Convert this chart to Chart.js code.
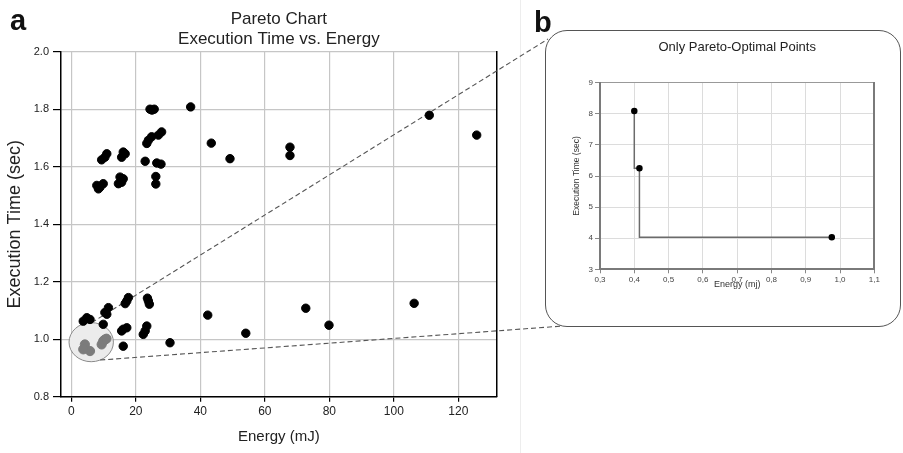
<!DOCTYPE html>
<html><head><meta charset="utf-8">
<script src="https://cdn.jsdelivr.net/npm/chart.js@4.4.0/dist/chart.umd.min.js"></script>
<style>
html,body{margin:0;padding:0;background:#fff;}
body{width:903px;height:453px;position:relative;overflow:hidden;font-family:"Liberation Sans",Arial,Helvetica,sans-serif;}
#main{position:absolute;left:0;top:0;width:903px;height:453px;}
#panelB{position:absolute;left:545px;top:30px;width:356px;height:297px;box-sizing:border-box;border:1.3px solid #555;border-radius:22px;}
#inset{position:absolute;left:546px;top:31px;width:354px;height:295px;}
.lbl{position:absolute;font-weight:bold;font-size:29px;line-height:29px;color:#111;}
</style></head><body>
<canvas id="main" width="903" height="453"></canvas>
<div id="panelB"></div>
<canvas id="inset" width="354" height="295"></canvas>
<div class="lbl" style="left:10px;top:6px">a</div>
<div class="lbl" style="left:534px;top:8px">b</div>
<script>
// ---- data ----
const mainTitle = ['Pareto Chart', 'Execution Time vs. Energy'];
const energyAll = [37.0,24.4,25.7,25.0,43.4,49.2,67.8,67.8,111.0,125.7,23.9,24.9,23.4,28.0,27.0,22.9,26.5,27.8,26.2,26.2,
  11.0,9.4,10.4,16.1,15.6,16.7,7.9,9.9,8.9,8.4,15.1,15.6,14.6,16.1,
  4.8,3.7,5.8,11.5,11.0,10.4,9.9,17.2,17.7,16.7,23.9,24.2,23.6,16.1,17.2,15.6,16.1,23.4,22.9,22.3,30.6,42.3,54.1,72.7,79.9,106.3];
const timeAll = [1.808,1.800,1.800,1.797,1.682,1.628,1.668,1.639,1.779,1.710,1.692,1.704,1.681,1.721,1.710,1.619,1.613,1.609,1.566,1.540,
  1.645,1.624,1.633,1.651,1.633,1.645,1.535,1.541,1.529,1.523,1.564,1.546,1.541,1.558,
  1.075,1.063,1.069,1.110,1.087,1.093,1.052,1.133,1.145,1.124,1.133,1.122,1.143,1.035,1.040,1.029,0.976,1.046,1.029,1.017,0.988,1.084,1.021,1.108,1.049,1.125];
const energyZoomed = [4.2,5.8,3.7,9.9,9.4,10.4,10.9];
const timeZoomed = [0.982,0.959,0.965,0.994,0.982,0.999,1.002];
const zoomCenter = [6.17, 0.99];      // energy, time
const zoomRadius = [6.88, 0.068];     // energy, time
const paretoEnergy = [0.400, 0.415, 0.976];
const paretoTime = [8.09, 6.25, 4.03];
const insetTitle = 'Only Pareto-Optimal Points';

const fam = '"Liberation Sans", Arial, Helvetica, sans-serif';
Chart.defaults.font.family = fam;

const overlay = {
  id: 'overlay',
  beforeDatasetsDraw(chart) {
    const {ctx, scales: {x, y}} = chart;
    ctx.save();
    // faint panel separator
    ctx.strokeStyle = '#ededed'; ctx.lineWidth = 1;
    ctx.beginPath(); ctx.moveTo(520.5, 0); ctx.lineTo(520.5, 453); ctx.stroke();
    // zoom ellipse
    const cx = x.getPixelForValue(zoomCenter[0]), cy = y.getPixelForValue(zoomCenter[1]);
    const rx = Math.abs(x.getPixelForValue(zoomCenter[0] + zoomRadius[0]) - cx);
    const ry = Math.abs(y.getPixelForValue(zoomCenter[1] + zoomRadius[1]) - cy);
    ctx.beginPath(); ctx.ellipse(cx, cy, rx, ry, 0, 0, Math.PI * 2);
    ctx.fillStyle = '#ececec'; ctx.fill();
    ctx.strokeStyle = '#8a8a8a'; ctx.lineWidth = 1; ctx.stroke();
    // dashed connectors to panel b
    ctx.setLineDash([5, 3]); ctx.strokeStyle = '#555'; ctx.lineWidth = 1.1;
    ctx.beginPath(); ctx.moveTo(cx + 0.5, cy - ry); ctx.lineTo(548, 39); ctx.stroke();
    const t = Math.acos(9 / rx);
    ctx.beginPath(); ctx.moveTo(cx + rx * Math.cos(t), cy + ry * Math.sin(t)); ctx.lineTo(563, 326); ctx.stroke();
    ctx.restore();
  }
};

new Chart(document.getElementById('main'), {
  type: 'scatter',
  data: { datasets: [
    { label: 'Configurations', data: energyAll.map((e, i) => ({x: e, y: timeAll[i]})),
      backgroundColor: '#000', borderColor: '#000', pointRadius: 4.2, pointHoverRadius: 4.2 },
    { label: 'Zoomed', data: energyZoomed.map((e, i) => ({x: e, y: timeZoomed[i]})),
      backgroundColor: '#7c7c7c', borderColor: '#7c7c7c', pointRadius: 4.6, pointHoverRadius: 4.6 }
  ]},
  options: {
    responsive: false, animation: false, events: [],
    layout: { padding: { left: 0, right: 406.3, top: 0, bottom: 0 } },
    plugins: {
      legend: { display: false }, tooltip: { enabled: false },
      title: { display: true, text: mainTitle, fullSize: false, color: '#222',
        font: { size: 17, weight: 'normal', lineHeight: 1.2 }, padding: { top: 9, bottom: 1.9 } }
    },
    scales: {
      x: { type: 'linear', min: -3.2, max: 131.9, afterFit: s => { s.height = 56.2; },
        ticks: { stepSize: 20, includeBounds: false, color: '#222', font: { size: 12 }, padding: 3, maxRotation: 0 },
        grid: { color: '#c6c6c6', lineWidth: 1.2, tickLength: 5, tickColor: '#000', tickWidth: 1.2 },
        border: { color: '#000', width: 1.5 },
        title: { display: true, text: 'Energy (mJ)', color: '#222', font: { size: 15 }, padding: { top: 0, bottom: 7 } } },
      y: { min: 0.8, max: 2.0, afterFit: s => { s.width = 61; },
        ticks: { stepSize: 0.2, callback: v => v.toFixed(1), color: '#222', font: { size: 11 }, padding: 4 },
        grid: { color: '#c6c6c6', lineWidth: 1.2, tickLength: 8, tickColor: '#000', tickWidth: 1.2 },
        border: { color: '#000', width: 1.5 },
        title: { display: true, text: 'Execution Time (sec)', color: '#222', font: { size: 18 }, padding: { top: 4, bottom: 0 } } },
      y2: { position: 'right', min: 0.8, max: 2.0, afterFit: s => { s.width = 0; },
        ticks: { display: false }, grid: { drawOnChartArea: false, drawTicks: false },
        border: { color: '#000', width: 1.5 } }
    }
  },
  plugins: [overlay]
});

new Chart(document.getElementById('inset'), {
  type: 'scatter',
  data: { datasets: [
    { label: 'Pareto front', data: paretoEnergy.map((e, i) => ({x: e, y: paretoTime[i]})),
      showLine: true, stepped: 'after', borderColor: '#6b6b6b', borderWidth: 1.5,
      backgroundColor: '#000', pointBorderColor: '#000', pointRadius: 2.5, pointHoverRadius: 2.5 }
  ]},
  options: {
    responsive: false, animation: false, events: [],
    layout: { padding: { left: 20, right: 25.7, top: 0, bottom: 35.6 } },
    plugins: {
      legend: { display: false }, tooltip: { enabled: false },
      title: { display: true, text: insetTitle, fullSize: false, color: '#222',
        font: { size: 13, weight: 'normal', lineHeight: 1.2 }, padding: { top: 9, bottom: 27.1 } }
    },
    scales: {
      x: { type: 'linear', min: 0.3, max: 1.1, afterFit: s => { s.height = 21.1; },
        ticks: { stepSize: 0.1, callback: v => v.toFixed(1).replace('.', ','), color: '#444', font: { size: 8 }, padding: 2, maxRotation: 0, autoSkip: false },
        grid: { color: '#dcdcdc', tickLength: 4, tickColor: '#888' },
        border: { color: '#7a7a7a', width: 2 },
        title: { display: true, text: 'Energy (mj)', color: '#333', font: { size: 9 }, padding: { top: 0, bottom: 0 } } },
      y: { min: 3, max: 9, afterFit: s => { s.width = 34; },
        ticks: { stepSize: 1, color: '#444', font: { size: 8 }, padding: 2 },
        grid: { color: c => (c.tick && c.tick.value === 9) ? '#999' : '#dcdcdc', tickLength: 5, tickColor: '#888' },
        border: { color: '#7a7a7a', width: 2 },
        title: { display: true, text: 'Execution Time (sec)', color: '#333', font: { size: 8.5 }, padding: { top: 5.6, bottom: 0 } } },
      y2: { position: 'right', min: 3, max: 9, afterFit: s => { s.width = 0; },
        ticks: { display: false }, grid: { drawOnChartArea: false, drawTicks: false },
        border: { color: '#7a7a7a', width: 2 } }
    }
  }
});
</script>
</body></html>
